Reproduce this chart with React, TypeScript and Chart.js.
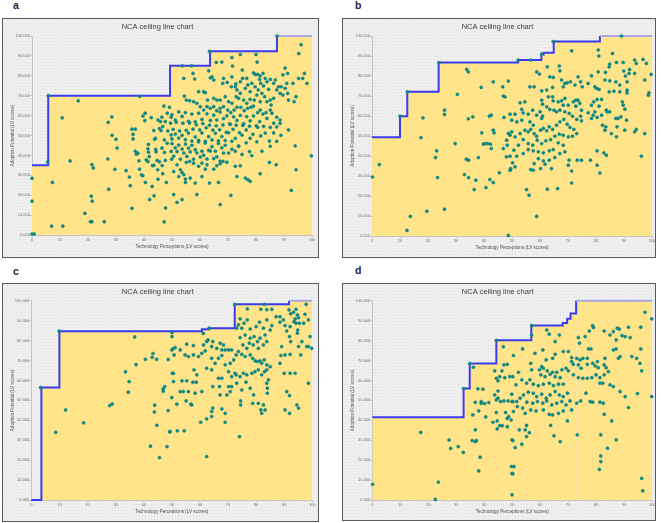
import React, { useEffect, useRef } from "react";
import { Chart, registerables } from "chart.js";

Chart.register(...registerables);
Chart.defaults.font.family = "'Liberation Sans', Arial, sans-serif";

// ---------- texts ----------
const chartTitle = "NCA ceiling line chart";
const xAxisTitle = "Technology Perceptions (LV scores)";
const yAxisTitle = "Adoption Potential (LV scores)";
const panelLetters = ["a", "b", "c", "d"];
const yTickLabels = ["0.000", "10.000", "20.000", "30.000", "40.000", "50.000", "60.000", "70.000", "80.000", "90.000", "100.000"];
const xTickLabels = ["0", "10", "20", "30", "40", "50", "60", "70", "80", "90", "100"];

// ---------- ceiling lines (step corners) ----------
const ceilA: [number, number][] = [[0, 35], [5.8, 70], [49.3, 85], [63.6, 92.3], [87.5, 100], [100, 100]];
const ceilB: [number, number][] = [[0, 49.4], [10, 59.9], [12.6, 72.1], [23.8, 86.8], [52.2, 88], [60.5, 90.8], [61.3, 91.6], [64.9, 97.2], [81.4, 100], [100, 100]];
const ceilC: [number, number][] = [[0, 0], [3.6, 56.4], [10, 84.7], [60.7, 85.7], [63.3, 86.2], [72.4, 98.2], [91.7, 100], [100, 100]];
const ceilD: [number, number][] = [[0, 41.5], [32.6, 55.9], [34.8, 68.5], [44.3, 80.1], [56.8, 87.5], [68, 88.8], [69.6, 91], [70.8, 93.6], [72.8, 100], [100, 100]];

// ---------- scatter points ----------
const ptsALeft: [number, number][] = [
  [0, 28.5], [0, 17], [0.8, 0.5], [0, 0.5], [5.6, 36.7], [5.8, 70], [7.3, 26.4], [7, 4.5], [11, 4.5], [10.8, 58.9], [13.6, 37.2], [16.5, 67.4], [18.9, 10.9], [21.2, 19.5], [21.5, 17], [20.9, 6.7], [21.4, 6.7], [21.4, 35.4], [21.9, 33.7], [25.8, 6.7], [27.1, 38.2], [27.4, 23], [27.2, 56.6], [28.5, 59.4], [28.6, 50.1], [29.6, 33], [30, 48.1], [30.4, 43.7],
  [33.6, 32.3], [34.8, 29.1], [35.1, 24.8], [35.7, 13.4], [35.7, 53.2], [36.9, 53.2], [36.1, 50.6], [36.1, 48.3], [36.9, 42.1], [37.8, 41.1], [37.3, 40.6], [38.5, 69.7], [38.2, 37.3], [38.4, 33.1], [39.6, 59.8], [40.4, 61.2], [40.3, 57.5], [41.4, 43.3], [41.6, 45.5], [41.6, 41.6], [40.8, 37.8], [39.6, 29.8], [40.5, 26.4], [42, 17.8], [42.6, 59], [42.9, 24.4], [43.5, 52.5], [43.8, 48.1], [44.3, 41.8], [43.5, 35], [44.7, 37.5], [44.9, 32.8], [45.5, 53.5], [46.1, 52.5], [46.7, 54.5], [46.4, 59.2], [47.3, 47.8], [47.1, 64.8], [46.7, 30.8], [45.5, 36.8], [47.3, 41.5], [47.6, 37.5], [48.3, 46.1], [48.5, 52.3], [48.3, 61.2], [49.1, 64.2], [49.7, 59.2], [49.5, 56.2], [49.7, 50.3], [49.7, 42], [49.9, 38.1], [47.7, 13.6], [47.2, 6.6], [47.6, 57], [45.9, 57], [45, 57.8],
  [44.1, 48.6], [44.2, 43], [45, 28], [46.5, 34.9], [46.4, 43.7], [48, 26.4], [41.9, 39.4], [43.6, 19.7], [41.4, 36.9], [43, 34.9], [39.1, 30.2], [53.7, 85], [57, 85], [63.4, 92.3], [87.5, 100],
];
const ptsATop: [number, number][] = [
  [71.4, 89.2], [74.4, 90.7], [80, 90.7], [65.8, 86.7], [67.8, 86.9], [71.6, 84.9], [80.4, 86.9], [90.4, 83.9], [89.6, 80.5], [91.3, 81.2], [95.3, 91.2], [96.1, 95.6], [97.3, 81.2], [95.2, 78.7], [96.7, 78.7], [98.2, 76.2], [93.2, 76.2], [91, 76.2], [75.1, 82.9], [63.1, 82.5], [57.5, 81.2], [54.2, 78.7], [58.1, 78.4], [63.7, 79], [64.3, 79.5], [64.9, 77.9], [68.4, 78.7], [68.1, 76.2], [69.7, 76.7], [71.4, 79.5], [72.8, 75.9], [74.4, 77], [75.2, 78.7], [76.7, 78.7], [77.1, 75.4], [79.1, 81.5], [79.7, 80.7], [80.6, 80.7], [81.5, 79.9], [82.5, 81.2], [83.3, 78.7], [81.3, 78.2], [81.7, 76.2], [82.7, 74.9], [83.9, 77], [85.1, 78.2], [86.3, 76.2], [86.9, 77.9], [80.8, 72.9], [79.7, 74.5], [78.5, 76.2], [77.9, 72], [76.2, 73.7], [73.2, 72.9], [72.6, 74.5], [71.2, 74.5], [74.4, 71.2], [80.3, 70.3], [82.1, 71.2], [84.5, 73.2], [87.4, 72.9], [88, 74.5], [88.6, 71.2], [89.6, 70.3], [91.6, 67.8], [93.6, 67], [94.3, 69.5], [91.3, 71.2], [90.4, 73.7], [89, 74.5], [83.9, 67], [83.1, 69.5], [85.1, 67.8], [85.4, 65.3], [86.3, 68.7], [81.5, 67], [79.4, 67.8], [77.9, 68.2], [76.7, 66.2], [75.6, 67.8], [73.8, 68.7], [72.9, 69.5], [71.4, 66.2], [70.2, 67], [69, 69.5], [67.2, 67.8], [66, 67.8], [64.9, 68.7], [62.7, 67.8], [61.9, 71.5], [61.3, 72], [59.5, 72], [54.4, 69.8], [55.1, 67.8], [56.3, 67.5], [57.7, 67], [58.9, 66.2], [60.1, 64.5], [61.3, 62.8], [62.5, 64.5], [63.7, 63.7], [64.9, 64.5], [66, 62.5], [67.2, 63.7], [68.4, 64.5], [69.9, 62.8], [71, 61.5], [72.2, 62.8], [73.2, 64.2], [74.6, 64.2], [75.8, 62.5], [77, 63.7], [78.2, 64.2], [79.1, 64.8], [80.6, 61.5], [81.5, 62.8], [82.5, 60.8], [83.6, 61.5], [85.1, 62.8], [85.7, 61.2], [87.4, 59.2], [88.6, 57.8], [91.6, 52.8], [94, 44.8], [99.8, 39.8], [94.3, 32.8], [92.6, 22.4], [87.2, 35.3], [84.8, 36.5], [81.5, 30.8], [77.9, 27], [77.1, 27.8], [74.4, 34.8], [72.6, 34.5], [71, 19.9], [67.2, 15.3], [58.9, 20.3], [53.6, 17.8], [51.8, 16.4], [50.6, 20.3], [54.8, 26.4], [54.2, 30.3], [51.8, 35.3], [50.6, 31.9], [53, 32.8],
];
const ptsACloud: [number, number][] = [
  [50, 60.4], [51.2, 57.8], [52.4, 61.9], [53.6, 59.6], [54.8, 61.5], [55.9, 57.1], [57.1, 60.8], [58.3, 56.9], [59.5, 61.2], [60.7, 58.1], [62.5, 60.9], [63.7, 57.6], [64.9, 60.2], [66, 57.8], [67.2, 61.8], [68.4, 58.5], [69.6, 59.9], [70.8, 55.6], [72, 59.4], [73.2, 57.6], [74.4, 60.1], [75.6, 55.8], [76.7, 59.5], [77.9, 57.4], [79.1, 59.8], [80.1, 54.9], [81.3, 57], [82.7, 54.6], [83.9, 58.6], [85.1, 54.1], [86.3, 56.2], [87.4, 54.3], [88.6, 56.1],
  [50.4, 53.1], [51.5, 56.7], [52.7, 52.3], [53.9, 56.2], [55.1, 52.6], [56.3, 56.3], [57.5, 53.2], [58.7, 55.4], [59.9, 52.8], [61, 56], [62.2, 53.9], [63.4, 55.2], [64.6, 52.7], [65.8, 54.9], [67, 52.9], [68.2, 55.3], [69.4, 51.6], [70.6, 55.8], [71.8, 53.1], [72.9, 55.2], [74.1, 51.4], [75.3, 55.1], [76.5, 52.8], [77.7, 54.7], [78.9, 50.6], [80.6, 54.1], [81.7, 49.8], [83.3, 51.2], [84.8, 47.2], [86.3, 51.3], [87.4, 47.1], [88.9, 50.1],
  [50, 48.3], [51.2, 50.7], [52.4, 48.7], [53.6, 50.1], [54.8, 47.9], [55.9, 51.2], [57.1, 47.2], [58.3, 49.3], [59.5, 47.6], [60.7, 51.3], [61.9, 47.1], [63.1, 49.4], [64.3, 47.8], [65.5, 51.1], [66.6, 47.3], [67.8, 49.5], [69, 47.5], [70.2, 51.4], [71.4, 47.1], [72.6, 48.6], [73.8, 44.7], [75, 50.2], [76.5, 46.3], [77.9, 48.6],
  [50, 45.9], [51.2, 43.8], [52.4, 45.2], [53.6, 43.2], [54.8, 45.7], [55.9, 43.7], [57.1, 45.1], [58.3, 42.9], [59.5, 46.8], [60.7, 42.1], [61.9, 46.2], [63.1, 42.6], [64.3, 44.4], [65.5, 42.1], [66.6, 46], [67.8, 43.8], [69, 45.1], [70.2, 41.2], [71.4, 43.1], [72.6, 42.1], [73.8, 44.6], [75, 40.5], [77.7, 41.9], [78.5, 39.9], [80.3, 46.8], [82.1, 42.1], [85.1, 44.6],
  [50.6, 39.6], [51.8, 41.9], [53, 38.1], [54.2, 41.2], [55.3, 39.5], [56.5, 41.8], [57.7, 38.1], [58.9, 41.3], [60.1, 39.2], [61.3, 40.1], [62.5, 38.2], [63.7, 42.2], [64.9, 38.4], [66, 39.3], [67.2, 37.1], [68.4, 41.2], [69.6, 36.6],
  [55.1, 36.5], [56.3, 37], [57.7, 36.1], [59.5, 34.5], [60.7, 36.1], [62.5, 35.3], [64.9, 33.1], [66, 34.8], [67.2, 35.8], [68.2, 37],
  [53.6, 31.4], [52.4, 29.4], [54.8, 28.1], [56.5, 28.6], [58.3, 26.1], [60.7, 29.4], [61.9, 33.1], [63.4, 26.1], [66.6, 26.4], [73.2, 29.4], [76.2, 28.6],
];

const ptsBLeft: [number, number][] = [
  [0.2, 29.5], [2.6, 35.7], [17.5, 49.2], [18.2, 59.1], [13.7, 9.8], [12.5, 2.8], [19.6, 12.4], [22.7, 39.2], [23.1, 42.6], [23.4, 29.2], [25.9, 62.9], [25.9, 60.8], [25.9, 13.4], [30.5, 70.8], [29.7, 46.2], [33, 30.7], [33.7, 38.4], [34.5, 37.9], [33.8, 83.3], [34.4, 82.1], [34.4, 58.6], [36, 59.6], [34.5, 29.2], [36.5, 23.2], [37.1, 27.9], [38, 39.2], [39, 74.3], [39.2, 51.6], [39.8, 45.9], [40.4, 46.2], [41.3, 46.2], [42.3, 45.9], [42.6, 43.7], [41.9, 59.9], [42.6, 60.4], [40.7, 24.2], [42.1, 28.2], [43.3, 26.7], [43.3, 77.1], [43.3, 52.9], [43.6, 51.6], [45.5, 31.6], [46.7, 74.6], [46.9, 70], [47.5, 69.6], [46.9, 43.7], [47.1, 59.3], [48.1, 47.9], [48.3, 45.4], [48.7, 51.3], [49.3, 50.4], [49.3, 39.9], [48.7, 77.5], [49.3, 60.9], [49.3, 32.9], [48.7, 0.3], [48, 39.6], [49.5, 33.2],
  [10, 59.9], [12.6, 72.1], [23.9, 86.6], [52.2, 88], [56.7, 88], [60.6, 91], [64.7, 97.2], [89.1, 100],
];
const ptsBCloud: [number, number][] = [
  [71.3, 92.6], [80.8, 93], [81, 90], [85.9, 91.3], [98, 86.3], [96.8, 88.3], [93.8, 88], [94.4, 86.3], [89.7, 86.8], [87.3, 86.8], [84.9, 86], [84.7, 84.6], [92, 83.3], [91.8, 81.3], [93.8, 81.3], [89.9, 82.5], [90.5, 80], [91.1, 77.1], [91.1, 72.9], [91.1, 71.6], [97.4, 78], [99.7, 80.8], [98.9, 71.6], [98.7, 70.4],
  [83.4, 81.8], [80.8, 82.1], [78.4, 80.1], [77.2, 76.3], [79.6, 74.6], [80.2, 73.8], [81.1, 73.3], [83.2, 78], [84.9, 77.6], [87.1, 77.1], [86.4, 72.4], [88.5, 75.5], [88.5, 72.1], [89.4, 67.1], [89.7, 65.4], [90.3, 63.4], [84.7, 72.1], [82, 68.3], [80.4, 68.3], [79.2, 67.1], [78.4, 65.4], [81.1, 64.9], [83.7, 62.9], [84.9, 62.1], [84, 62.1], [79.6, 62.1], [79, 60.4], [77.2, 61.6], [78.4, 58.8], [80.4, 59.3], [82, 60.4], [87.9, 58.8], [87.1, 58.8], [88.9, 59.6], [90.9, 57.9], [87.5, 54.6], [83.5, 54.6], [82.3, 55.4], [83.2, 52.9], [85.5, 51.2], [87.3, 49.6], [90.3, 52.9], [93.8, 52.1], [94.4, 53.3], [97.4, 51.2], [96.2, 39.9], [83.7, 40.4], [82.8, 41.6], [80.4, 42.6], [81.4, 31.5], [80.4, 35.4], [78, 37.9], [74.8, 37.9], [73.3, 37.9], [71.3, 32.5], [71.3, 26.5], [70.1, 35.4], [66.3, 23.7], [62.6, 23.4], [58.8, 9.8], [56.1, 20.4], [55.2, 23.2],
  [73.6, 79.6], [74.5, 77.1], [75.1, 74.6], [72.5, 75.5], [70.9, 77.1], [69.7, 76.6], [68.9, 76.3], [68.3, 74.6], [67.7, 78], [67.1, 82.6], [66.9, 85], [64.7, 79.3], [63.5, 79.6], [62.6, 84.6], [59.8, 81], [58.8, 82.1], [56.4, 74.6], [57.9, 74.6], [60.6, 72.6], [62.4, 73], [64.5, 74.3], [63, 69.6], [64.5, 69.6], [64.7, 67.6], [66.5, 67.1], [67.7, 67.6], [68.9, 68.8], [68.3, 65.4], [70.1, 65.4], [71.9, 67.1], [72.8, 67.9], [73.6, 67.9], [74.2, 66.3], [72.8, 64.9], [74.8, 62.9], [74.5, 59.9], [74.8, 57.6], [73.1, 58.3], [71.6, 59.9], [70.4, 61.3], [68.9, 62.1], [67.1, 62.9], [65.9, 62.1], [65, 62.9], [63.5, 63.3], [62.4, 64.6], [60.9, 65.9], [60.6, 67.9], [60, 62.1], [60.9, 59.9], [60.6, 58.8], [58.8, 60.4], [57.4, 62.9], [55.8, 60.9], [54, 61.6], [53.5, 63.3], [52.9, 66.6], [54.6, 67.1], [51.1, 60.9], [49.9, 57.9], [51.7, 57.1], [53.5, 57.9], [56.4, 57.1], [57.6, 55.4], [56.7, 53.3], [55.8, 52.1], [54.6, 52.9], [52.9, 51.2], [51.1, 49.6], [49.9, 52.1], [57.9, 51.2], [58.8, 49.9], [60.2, 52.9], [61.2, 53.8], [62.4, 52.6], [63.3, 54.6], [64.5, 53.3], [65.9, 55.4], [67.1, 57.1], [68.5, 58.3], [69.7, 55.9], [70.7, 54.3], [72.1, 53.3], [73.1, 51.2], [71.6, 49.9], [70.1, 49.6], [68.3, 50.4], [66.9, 50.9], [65.3, 49.9], [63.8, 48.2], [62.1, 47.6], [60.6, 46.2], [59, 47.9], [57.4, 45.4], [55.8, 46.2], [54, 48.2], [52.3, 45.4], [50.7, 42.9], [54, 41.2], [55.8, 43.2], [57.6, 42.6], [59.4, 42.1], [61.2, 41.6], [63.3, 42.6], [64.7, 43.2], [66.5, 46.6], [68.3, 45.4], [68.9, 42.1], [67.1, 41.2], [65.3, 39.2], [63.3, 37.9], [61.2, 37.6], [59.4, 38.7], [57.9, 36.2], [56.7, 33.2], [57.6, 32.9], [51.7, 39.9], [50.2, 36.6], [51.1, 34.6], [49.5, 33.7], [60.2, 33.7], [61.8, 35.9], [64.1, 33.7], [70.4, 37.9],
];

const ptsCLeft: [number, number][] = [
  [12.2, 45.2], [8.7, 34], [18.6, 38.7], [27.9, 47.4], [28.8, 48.2], [33.5, 64.3], [34.8, 59.4], [34.5, 54.1], [36.8, 81.8], [37.3, 67.9], [40.6, 70.6], [43, 71.6], [43.3, 73.5], [44.6, 70.6], [43.9, 47.6], [43.8, 44.2], [44.7, 37.5], [42.4, 27], [45.6, 21.3], [46.9, 55.7], [47.5, 56.9], [47, 54.6], [48.7, 70.5], [48.7, 44.9], [48.3, 26.8], [49.2, 34.2], [9.9, 84.8], [3.3, 56.4],
];
const ptsCCloud: [number, number][] = [
  [76.9, 95.9], [81.7, 95.7], [83, 98.2], [83.8, 95.5], [85.6, 95.7], [91.7, 95.4], [92.3, 93.4], [93.3, 94.2], [94.2, 95.7], [94.7, 92.9], [95.1, 91.5], [93.9, 90.9], [93.5, 89.5], [94.2, 88.7], [95.4, 88.7], [96.9, 88.7], [97.8, 98.2], [97.4, 93.2], [98.6, 90.4], [99.2, 82], [99.8, 76.1], [98, 77], [98.6, 77], [96.3, 79.5], [95.9, 72.8], [95.1, 77], [94.7, 83.7], [94.8, 85.3], [92.1, 87], [90.3, 87.5], [90.9, 84.8], [91.9, 82], [92.3, 79.5], [92.1, 73.1], [90.3, 72.8], [89.1, 77], [88.8, 72.5], [88.5, 68.6], [90, 63.6], [92.1, 63.6], [93.9, 63.6], [98.6, 58.6], [90.9, 54.4], [91.9, 52.4], [90.3, 45.2], [91.9, 43.5], [94.5, 47.7], [95.1, 46.1],
  [89.7, 90.4], [88.5, 92], [87.1, 92], [88.5, 89.2], [85.6, 87.5], [83.8, 90.4], [85, 85.3], [82.6, 86.2], [81.2, 89.2], [80, 87], [77.9, 85.8], [76.9, 90.4], [75.7, 88.7], [74.3, 90.9], [73.7, 87.9], [73.1, 86.2], [74.9, 86.2], [76.1, 82.8], [77.9, 81.2], [79.3, 82], [80.5, 79.5], [81.4, 81.2], [83.2, 82.8], [83.8, 79.5], [82.6, 77.8], [80.8, 76.1], [79, 77.8], [77.6, 78.7], [76.7, 76.1], [75.3, 77.8], [74.3, 81.5], [73.7, 74.5], [74.9, 73.1], [76.1, 72], [77.9, 72.8], [78.8, 71.1], [79.7, 69.8], [80.5, 69.5], [81.4, 69.8], [82, 68.6], [82.9, 70.3], [83.8, 67.8], [85, 66.9], [83.8, 65.3], [83, 64.4], [82, 62.8], [80.8, 65.3], [79.6, 64.4], [78.5, 63.6], [76.7, 62.8], [75.5, 63.6], [74.3, 61.9], [72.9, 62.8], [71.3, 61.9], [70.2, 64.4], [69, 67.8], [70.8, 68.6], [72, 70.3], [72.9, 72.8], [71.3, 75.3], [70.2, 75.3], [69, 75.3], [67.8, 75.3], [68.4, 77.8], [67.2, 78.7], [66, 76.1], [64.2, 77], [64.6, 79.5], [62.4, 79.5], [61.3, 77.8], [60.7, 73.6], [59.5, 72], [57.7, 72.8], [55.9, 72], [54.7, 72.8], [53, 75.3], [50.8, 72.8], [50, 75.3], [51.2, 76.5], [55.3, 78.2], [57.7, 77.5], [61.9, 74.8], [64.2, 71.1], [66.6, 71.1], [67.8, 72.5], [65.4, 68.6], [62.4, 66.1], [64.2, 65.3], [66.6, 61.1], [67.8, 61.1], [70.2, 56.9], [71.3, 56.9], [73.1, 58.6], [74.9, 55.2], [76.4, 59.1], [77.9, 56.1], [79.1, 52.7], [80.8, 48.5], [82.6, 47.7], [83.2, 45.2], [81.7, 45.2], [82, 43.5], [83.8, 58.6], [84.4, 60.3], [84, 56.1], [84, 53.6], [78.8, 48.5], [74.5, 49.7], [74.5, 47.7], [74.1, 31.8], [69, 39], [69, 43.5], [67.8, 45.7], [64.6, 46.1], [64.2, 44.4], [64.2, 41.9], [62.4, 40.7], [60.3, 39], [62.4, 21.8], [57.1, 47.7], [56.8, 48.1], [55.1, 49.7], [51.8, 48.1], [50, 51.4], [53, 54.4], [54.1, 54.4], [55.9, 54.4], [58.3, 53.6], [60.7, 54.4], [58.7, 59.1], [57.5, 59.1], [58.9, 62.8], [57.9, 65.3], [55.3, 59.8], [53.6, 59.8], [50.6, 59.4], [50.6, 63.6], [52, 34.7], [54.4, 34.7], [49.4, 34.3], [67.2, 52.7], [69.6, 52.7], [70.8, 54.4], [64.6, 56.9], [67, 56.9], [72.5, 63.6],
  [50.1, 84], [50.1, 82], [50.4, 75.8], [50.2, 63.6], [63.3, 86.2], [72.4, 98.2], [61.2, 83.6], [62.9, 80.3],
];

const ptsDLeft: [number, number][] = [
  [0.1, 7.9], [17.3, 33.9], [23.6, 9], [22.5, 0.3], [27.4, 30.1], [28, 25.9], [30.7, 26.8], [32.5, 23.9], [32.6, 55.9], [34.8, 68.5], [44.3, 80.1],
  [36.1, 66.6], [37.7, 55.8], [39.5, 55.6], [36.8, 49], [38.9, 49.4], [38.9, 48.5], [40.1, 48.4], [41.6, 48.9], [35.9, 42.7], [38, 44.7], [40.5, 41.7], [43.1, 39], [44.3, 43.9], [44.6, 39.7], [45.5, 37.3], [44.6, 35.7], [46.4, 37.3], [48.2, 36.8], [47.6, 43.9], [48.2, 41], [48.7, 41.9], [49.6, 40.2], [49.9, 49.4], [48.5, 49.7], [47, 49.7], [45.8, 49.4], [44.9, 51.1], [44.3, 50.2], [43.7, 52.7], [44.9, 54.7], [44.3, 61.1], [44.9, 59.8], [43.7, 64.8], [45.5, 61.9], [47.3, 61.4], [46.3, 64.8], [47, 67.8], [48.2, 68.1], [49.1, 61.9], [46.8, 76.9], [36.8, 35.2], [35.7, 29.8], [37.2, 29.8], [36.8, 29.3], [38.5, 21.5], [38, 14.6], [49.9, 30.2], [49.9, 13.4], [49.9, 2.6], [49.7, 16.8],
];
const ptsDCloud: [number, number][] = [
  [97.4, 94.2], [99.8, 90.9], [95.9, 86.7], [95.9, 75.8], [96.2, 64.8], [95.6, 68.6], [94.7, 53.4], [94.4, 71.1], [92.7, 72], [91.5, 86.7], [92.1, 81.5], [90.3, 82], [89.2, 82.5], [88.5, 72], [87.9, 71.1], [87.1, 75.8], [86.1, 75.3], [87.5, 86.2], [88.2, 85.7], [84.9, 82.8], [87.1, 80.3], [86.1, 84.5], [82.8, 84.8], [79, 86.5], [78.7, 87.5], [77.5, 84.8], [76, 82], [73.6, 81.5], [74, 78.7], [77.2, 75.8], [78.1, 75.8], [76.8, 71.1], [75.2, 71.1], [74.2, 70.3], [73, 71.1], [71.2, 71.5], [71.8, 68.1], [73.6, 67.8], [74.6, 66.1], [76.8, 68.1], [78.7, 68.6], [80.4, 69.5], [79.6, 67.3], [80.7, 66.4], [82.8, 67.8], [83.1, 71.1], [83.5, 66.4], [84.3, 64.4], [82.8, 62.8], [81.3, 61.4], [79.9, 62.8], [78.4, 61.4], [76.8, 61.1], [75.2, 61.1], [73.6, 61.4], [71.8, 62.8], [70, 64.8], [69.2, 66.1], [67.7, 65.3], [65.9, 64.1], [64.4, 64.1], [62.5, 64.8], [61.1, 66.1], [59.7, 65.3], [56.9, 65.3], [56.6, 68.6], [60.2, 62.8], [61.7, 61.9], [63.5, 63.1], [65.3, 61.9], [67.1, 61.4], [68.2, 58.1], [66.5, 58.1], [64.7, 57.4], [63.2, 58.6], [61.1, 58.1], [59.3, 57.4], [57.5, 58.1], [56.3, 60.3], [55.1, 58.6], [53.4, 60.3], [52.2, 64.1], [51.3, 57.8], [50.2, 61.9], [49.8, 53.1], [50.2, 49.4], [51.6, 49.4], [52.8, 51.1], [54, 52.7], [55.7, 54.1], [57.5, 53.6], [58.7, 51.9], [60.5, 53.1], [62.1, 51.1], [63.5, 52.7], [65.3, 54.4], [66.8, 52.7], [68.2, 51.9], [69.7, 53.6], [70.6, 49.7], [69.2, 47.7], [67.7, 49.4], [65.9, 48.6], [64.1, 47.7], [62.3, 49.7], [60.9, 48.6], [59, 49.4], [57.3, 48.6], [55.2, 49.1], [53.7, 46.1], [51.8, 46.9], [50.4, 44.4], [54.6, 43.5], [56.6, 45.2], [58.5, 44.7], [61.1, 45.2], [63.2, 43], [64.4, 42.7], [66.5, 43.5], [68.2, 44.7], [69.7, 39.7], [71.2, 45.2], [73, 48.6], [74.4, 49.7], [76.3, 53.6], [77.8, 49.4], [78.7, 49.1], [81.3, 49.1], [82.5, 48.6], [81.3, 58.6], [82.3, 58.6], [84.9, 57.8], [86.1, 56.9], [88.5, 54.4], [90.3, 51.9], [91.5, 46.4], [82.8, 43], [85.5, 39.7], [87.1, 30.2], [84, 26], [81.6, 32.7], [81.6, 22.1], [81.6, 19.3], [81.1, 15.4], [73.2, 32.7], [67.1, 29.3], [64.9, 32.2], [63.7, 37.4], [55.1, 37.4], [54.6, 35.2], [56.1, 33.8], [55.1, 31.8], [52.5, 35.2], [53.4, 28], [51, 26.3], [50.2, 29.8], [50.6, 16.8], [50.2, 13.1], [96.2, 10.9], [96.6, 4.6], [99.8, 51.9],
  [62.3, 85.3], [63.2, 83.2], [65.3, 79.5], [66.8, 82.8], [68.2, 74.5], [70, 74.5], [71.2, 69.5], [65.3, 73.1], [64.4, 71.1], [62.1, 70.3], [60.5, 66.9], [60.9, 75.3], [58.1, 73.6], [53.7, 75.8], [50.4, 72.5], [56.9, 82.8], [56.9, 87.5],
];

// ---------- layout (positions only) ----------
type Geo = { left: number; top: number; width: number; height: number; plotLeft: number; plotTop: number; rightInset: number; bottomInset: number; letterLeft: number; letterTop: number };
const geos: Geo[] = [
  { left: 2, top: 18, width: 317, height: 240, plotLeft: 29, plotTop: 17, rightInset: 6, bottomInset: 22, letterLeft: 13, letterTop: 0 },
  { left: 342, top: 18, width: 314, height: 240, plotLeft: 29, plotTop: 17, rightInset: 3, bottomInset: 21, letterLeft: 355, letterTop: 0 },
  { left: 2, top: 283, width: 317, height: 239, plotLeft: 28.3, plotTop: 16.7, rightInset: 5.7, bottomInset: 21, letterLeft: 13, letterTop: 265.8 },
  { left: 342, top: 283, width: 314, height: 238, plotLeft: 29.3, plotTop: 16.7, rightInset: 2.7, bottomInset: 20, letterLeft: 355, letterTop: 265 },
];

const panelData: { ceil: [number, number][]; pts: [number, number][] }[] = [
  { ceil: ceilA, pts: [...ptsALeft, ...ptsATop, ...ptsACloud] },
  { ceil: ceilB, pts: [...ptsBLeft, ...ptsBCloud] },
  { ceil: ceilC, pts: [...ptsCLeft, ...ptsCCloud] },
  { ceil: ceilD, pts: [...ptsDLeft, ...ptsDCloud] },
];

function Panel({ geo, ceil, pts }: { geo: Geo; ceil: [number, number][]; pts: [number, number][] }) {
  const ref = useRef<HTMLCanvasElement>(null);
  const cw = geo.width - 2;
  const ch = geo.height - 2;
  useEffect(() => {
    if (!ref.current) return;
    const chart = new Chart(ref.current, {
      type: "scatter",
      data: {
        datasets: [
          {
            type: "line",
            data: ceil.map(([x, y]) => ({ x, y })),
            stepped: "before",
            fill: "origin",
            backgroundColor: "#FFE48A",
            borderColor: "#3b3bf0",
            borderWidth: 2,
            pointRadius: 0,
            order: 2,
            clip: 3,
            segment: {
              borderColor: (c: any) => (c.p0.parsed.y >= 100 && c.p1.parsed.y >= 100 ? "#a6a6e4" : undefined),
            },
          } as any,
          {
            type: "scatter",
            data: pts.map(([x, y]) => ({ x, y })),
            pointRadius: 1.6,
            pointHoverRadius: 1.6,
            backgroundColor: "#0f8a84",
            borderColor: "#0b7c78",
            borderWidth: 0.4,
            order: 1,
            clip: false,
          } as any,
        ],
      },
      options: {
        responsive: false,
        animation: false,
        events: [],
        layout: { padding: { left: 0, top: 0, right: geo.rightInset, bottom: 0 } },
        plugins: {
          legend: { display: false },
          tooltip: { enabled: false },
          title: {
            display: true,
            text: chartTitle,
            color: "#3c3c3c",
            font: { size: 7.5, weight: "normal", lineHeight: "11px" as any },
            padding: { top: 2.5, bottom: geo.plotTop - 2.5 - 11 },
          },
        },
        scales: {
          x: {
            type: "linear",
            min: 0,
            max: 100,
            ticks: {
              stepSize: 10,
              autoSkip: false,
              maxRotation: 0,
              padding: 0,
              color: "#707070",
              font: { size: 4 },
              callback: (v: any) => xTickLabels[Math.round(Number(v) / 10)] ?? "",
            },
            grid: { drawOnChartArea: false, tickLength: 2, color: "#c4c4c4" },
            border: { color: "#c4c4c4" },
            title: {
              display: true,
              text: xAxisTitle,
              color: "#505050",
              font: { size: 4.6 },
              padding: { top: 0, bottom: geo.bottomInset - 11.7 - 2.76 },
            },
            afterFit: (s: any) => {
              s.height = geo.bottomInset;
              s.paddingLeft = 0;
              s.paddingRight = 0;
            },
          },
          y: {
            type: "linear",
            min: 0,
            max: 100,
            ticks: {
              stepSize: 10,
              autoSkip: false,
              padding: 0,
              color: "#707070",
              font: { size: 4 },
              callback: (v: any) => yTickLabels[Math.round(Number(v) / 10)] ?? "",
            },
            grid: { drawOnChartArea: false, tickLength: 2, color: "#c4c4c4" },
            border: { color: "#c4c4c4" },
            title: {
              display: true,
              text: yAxisTitle,
              color: "#505050",
              font: { size: 4.6 },
              padding: { top: 6.9, bottom: 0 },
            },
            afterFit: (s: any) => {
              s.width = geo.plotLeft;
              s.paddingTop = 0;
              s.paddingBottom = 0;
            },
          },
        },
      } as any,
    });
    return () => chart.destroy();
  }, []);
  return (
    <div
      style={{
        position: "absolute",
        left: geo.left,
        top: geo.top,
        width: geo.width,
        height: geo.height,
        boxSizing: "border-box",
        border: "1px solid #595959",
        backgroundColor: "#efefef",
        backgroundImage: "radial-gradient(circle, #e0e0e0 0.6px, transparent 0.8px)",
        backgroundSize: "3px 3px",
      }}
    >
      <canvas ref={ref} width={cw} height={ch} style={{ display: "block", width: cw, height: ch }} />
    </div>
  );
}

export default function App() {
  return (
    <div style={{ position: "fixed", left: 0, top: 0, width: 661, height: 523, background: "#ffffff", overflow: "hidden" }}>
      {geos.map((g, i) => (
        <React.Fragment key={i}>
          <span
            style={{
              position: "absolute",
              left: g.letterLeft,
              top: g.letterTop,
              fontFamily: "'Liberation Sans', Arial, sans-serif",
              fontWeight: "bold",
              fontSize: 10.5,
              lineHeight: "11px",
              color: "#1e1e46",
            }}
          >
            {panelLetters[i]}
          </span>
          <Panel geo={g} ceil={panelData[i].ceil} pts={panelData[i].pts} />
        </React.Fragment>
      ))}
    </div>
  );
}
